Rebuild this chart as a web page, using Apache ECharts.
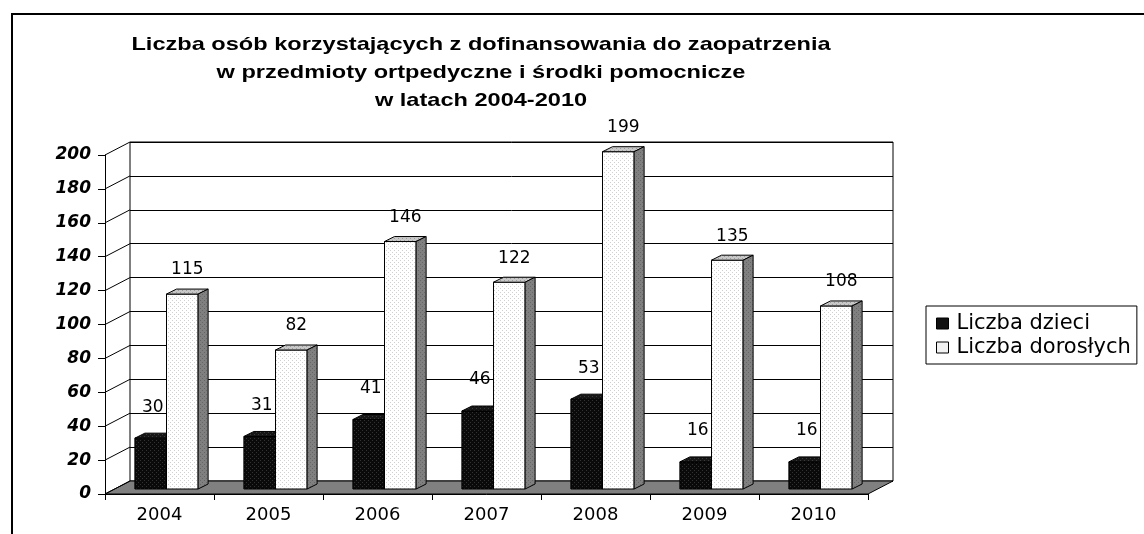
<!DOCTYPE html>
<html>
<head>
<meta charset="utf-8">
<script src="https://cdn.jsdelivr.net/npm/echarts@6/dist/echarts.min.js"></script>
<style>
html, body { margin: 0; padding: 0; background: #fff; }
#chart { width: 1144px; height: 534px; }
</style>
</head>
<body>
<div id="chart"></div>
<script>
const years = ['2004', '2005', '2006', '2007', '2008', '2009', '2010']
const children = [30, 31, 41, 46, 53, 16, 16]
const adults = [115, 82, 146, 122, 199, 135, 108]
const seriesNames = ['Liczba dzieci', 'Liczba dorosłych']
const yTicks = [0, 20, 40, 60, 80, 100, 120, 140, 160, 180, 200]
const titleLines = [
    'Liczba osób korzystających z dofinansowania do zaopatrzenia',
    'w przedmioty ortpedyczne i środki pomocnicze',
    'w latach 2004-2010'
]

// pseudo 3d offsets
const DX = 25, DY = -13     // back wall
const BDX = 10, BDY = -5    // bar depth
const OX = 7, OY = -5       // bars sit a bit behind the front edge

const dotted = (bg, dot) => {
    const c = document.createElement('canvas')
    c.width = 4; c.height = 4
    const ctx = c.getContext('2d')
    ctx.fillStyle = bg
    ctx.fillRect(0, 0, 4, 4)
    ctx.fillStyle = dot
    ctx.fillRect(0, 0, 1, 1)
    ctx.fillRect(2, 2, 1, 1)
    return { image: c, repeat: 'repeat' }
}

const looks = [
    { front: dotted('#0a0a0a', '#333'), top: dotted('#161616', '#3c3c3c'), side: dotted('#111', '#333'), labelDy: 31, labelDx: 2 },
    { front: dotted('#ffffff', '#d0d0d0'), top: dotted('#c8c8c8', '#9a9a9a'), side: dotted('#808080', '#666'), labelDy: 24, labelDx: 5 }
]

const barItem = (k) => (params, api) => {
    const i = api.value(0), v = api.value(1)
    const base = api.coord([i, 0]), top = api.coord([i, v])
    const w = api.size([1, 0])[0] * 0.29
    const x = base[0] + OX - (k === 0 ? w : 0)
    const yb = base[1] + OY, yt = top[1] + OY
    const look = looks[k]
    const line = { stroke: '#000', lineWidth: 1 }
    return {
        type: 'group',
        children: [
            { type: 'rect', shape: { x: x, y: yt, width: w, height: yb - yt }, style: Object.assign({ fill: look.front }, line) },
            { type: 'polygon', shape: { points: [[x, yt], [x + w, yt], [x + w + BDX, yt + BDY], [x + BDX, yt + BDY]] }, style: Object.assign({ fill: look.top }, line) },
            { type: 'polygon', shape: { points: [[x + w, yt], [x + w + BDX, yt + BDY], [x + w + BDX, yb + BDY], [x + w, yb]] }, style: Object.assign({ fill: look.side }, line) },
            {
                type: 'text', x: x + w / 2 + look.labelDx, y: yt - look.labelDy,
                style: { text: String(v), fontSize: 17, fontFamily: 'DejaVu Sans', fill: '#000', align: 'center', verticalAlign: 'middle' }
            }
        ]
    }
}

const floorItem = (params, api) => {
    const s = params.coordSys
    const yb = s.y + s.height
    return {
        type: 'polygon',
        shape: { points: [[s.x, yb], [s.x + s.width, yb], [s.x + s.width + DX, yb + DY], [s.x + DX, yb + DY]] },
        style: { fill: '#808080', stroke: '#000', lineWidth: 1 }
    }
}

const diagItem = (params, api) => {
    const p = api.coord([0, api.value(1)])
    const x0 = params.coordSys.x
    return {
        type: 'line',
        shape: { x1: x0, y1: p[1], x2: x0 + DX, y2: p[1] + DY },
        style: { stroke: '#000', lineWidth: 1 }
    }
}

var myChart = echarts.init(document.getElementById('chart'))
var option = {
    animation: false,
    backgroundColor: '#fff',
    graphic: [
        { type: 'rect', silent: true, z: 0, shape: { x: 12, y: 14, width: 1300, height: 700 }, style: { fill: 'none', stroke: '#000', lineWidth: 2 } },
        {
            type: 'text', x: 481, y: 31, scaleX: 1.24, silent: true,
            style: { text: titleLines.join('\n'), fontSize: 19, fontWeight: 'bold', fontFamily: 'Liberation Sans', fill: '#000', align: 'center', verticalAlign: 'top', lineHeight: 28 }
        }
    ],
    legend: {
        data: seriesNames,
        orient: 'vertical',
        left: 926,
        top: 306,
        padding: [7, 6, 6, 10],
        itemGap: 3,
        itemWidth: 12,
        itemHeight: 11,
        icon: 'rect',
        borderColor: '#000',
        borderWidth: 1,
        itemStyle: { borderColor: '#000', borderWidth: 1 },
        textStyle: { fontSize: 21, fontFamily: 'DejaVu Sans', color: '#000', padding: [0, 0, 0, 3] }
    },
    grid: [
        { left: 105, top: 155, width: 763, height: 339 },
        { left: 105 + DX, top: 155 + DY, width: 763, height: 339, show: true, borderColor: '#000', borderWidth: 1, backgroundColor: '#fff' }
    ],
    xAxis: [
        {
            gridIndex: 0, type: 'category', data: years,
            axisLine: { show: true, lineStyle: { color: '#000', width: 1 } },
            axisTick: { show: true, length: 6, lineStyle: { color: '#000' } },
            axisLabel: { color: '#000', fontSize: 18, fontFamily: 'DejaVu Sans', margin: 12 }
        },
        { gridIndex: 1, type: 'category', data: years, show: false }
    ],
    yAxis: [
        {
            gridIndex: 0, type: 'value', min: 0, max: 200, interval: 20,
            axisLine: { show: true, lineStyle: { color: '#000', width: 1 } },
            axisTick: { show: true, length: 7, lineStyle: { color: '#000' } },
            splitLine: { show: false },
            axisLabel: { color: '#000', fontSize: 17, fontWeight: 'bold', fontStyle: 'italic', fontFamily: 'DejaVu Sans', margin: 14 }
        },
        {
            gridIndex: 1, type: 'value', min: 0, max: 200, interval: 20,
            axisLine: { show: false }, axisTick: { show: false }, axisLabel: { show: false },
            splitLine: { show: true, lineStyle: { color: '#000', width: 1 } }
        }
    ],
    series: [
        { type: 'custom', name: 'floor', silent: true, z: 3, clip: false, xAxisIndex: 0, yAxisIndex: 0, data: [[0, 0]], renderItem: floorItem },
        { type: 'custom', name: 'diag', silent: true, z: 3, clip: false, xAxisIndex: 0, yAxisIndex: 0, data: yTicks.map(v => [0, v]), renderItem: diagItem },
        {
            type: 'custom', name: seriesNames[0], z: 4, clip: false, xAxisIndex: 0, yAxisIndex: 0,
            itemStyle: { color: '#111' },
            data: children.map((v, i) => [i, v]), renderItem: barItem(0)
        },
        {
            type: 'custom', name: seriesNames[1], z: 5, clip: false, xAxisIndex: 0, yAxisIndex: 0,
            itemStyle: { color: '#f2f2f2' },
            data: adults.map((v, i) => [i, v]), renderItem: barItem(1)
        }
    ]
}
myChart.setOption(option)
</script>
</body>
</html>
